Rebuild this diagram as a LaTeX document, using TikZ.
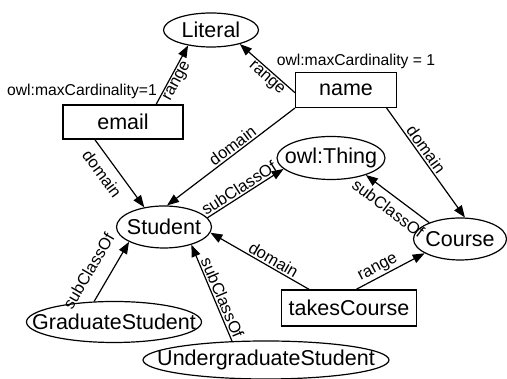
\documentclass[tikz,border=0pt]{standalone}
\usepackage{fontspec}
\setmainfont{Liberation Sans}
\usepackage{tikz}
\usetikzlibrary{arrows.meta,shapes.geometric}

\begin{document}
\begin{tikzpicture}[x=1pt,y=1pt,
  cls/.style={ellipse, draw, line width=1.2pt, inner sep=0pt, font=\fontsize{21.5}{25}\selectfont},
  prop/.style={rectangle, draw, line width=1.2pt, inner sep=0pt, font=\fontsize{21.5}{25}\selectfont},
  rel/.style={-{Triangle[length=12pt,width=9pt]}, line width=1.2pt},
  lbl/.style={sloped, font=\fontsize{16.5}{19}\selectfont, inner sep=1.5pt},
  note/.style={font=\fontsize{15.7}{18}\selectfont, inner sep=0pt}]

\useasboundingbox (0,0) rectangle (507,379);

\node[cls, minimum width=95pt, minimum height=34pt] (Literal) at (211,349) {\makebox[0pt]{Literal}};
\node[prop, minimum width=120pt, minimum height=34pt] (email) at (123,257) {email};
\node[prop, minimum width=101pt, minimum height=35pt] (name) at (346,289) {name};
\node[cls, minimum width=108pt, minimum height=43pt] (Thing) at (331,221) {\makebox[0pt]{owl:Thing}};
\node[cls, minimum width=95pt, minimum height=42pt] (Student) at (164,152) {\makebox[0pt]{Student}};
\node[cls, minimum width=93pt, minimum height=42pt] (Course) at (460,140) {\makebox[0pt]{Course}};
\node[prop, minimum width=135pt, minimum height=36pt] (takes) at (349,71) {takesCourse};
\node[cls, minimum width=175pt, minimum height=41pt] (Grad) at (114,57) {\makebox[0pt]{GraduateStudent}};
\node[cls, minimum width=246pt, minimum height=38pt] (Undergrad) at (266,19) {\makebox[0pt]{UndergraduateStudent}};

\node[note] (cardE) at (82,288) {owl:maxCardinality=1};
\node[note] (cardN) at (356,318) {owl:maxCardinality = 1};

\draw[rel] (email.28) -- node[lbl, below, pos=0.45] {range} (Literal.214);
\draw[rel] (name.183) -- node[lbl, below, pos=0.42] {range} (Literal.334);
\draw[rel] (email.212) -- node[lbl, below=6pt, pos=0.38] {domain} (Student.135);
\draw[rel] (name.south west) -- node[lbl, above, pos=0.45] {domain} (Student.82);
\draw[rel] (name.336) -- node[lbl, above, pos=0.42] {domain} (Course.77);
\draw[rel] (Student.12) -- node[lbl, above, pos=0.47] {subClassOf} (Thing.193);
\draw[rel] (Course.152) -- node[lbl, below=5pt, pos=0.52] {subClassOf} (Thing.334);
\draw[rel] (takes.155) -- node[lbl, above, pos=0.4] {domain} (Student.353);
\draw[rel] (takes.69) -- node[lbl, above, pos=0.38] {range} (Course.202);
\draw[rel] (Grad.134) -- node[lbl, above=12pt, pos=0.34] {subClassOf} (Student.203);
\draw[rel] (Undergrad.151) -- node[lbl, above, pos=0.42] {subClassOf} (Student.327);

\end{tikzpicture}
\end{document}
